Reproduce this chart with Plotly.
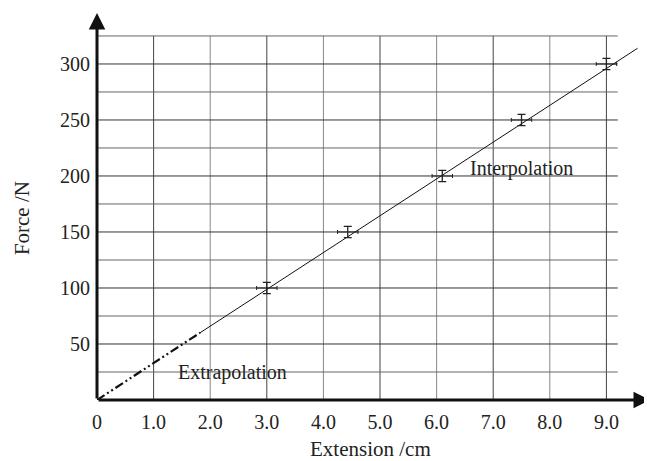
import plotly.graph_objects as go

# ---- data ----
extension_cm = [3.0, 4.43, 6.1, 7.5, 9.0]
force_N = [100, 150, 200, 250, 300]
ext_err = [0.18, 0.18, 0.18, 0.18, 0.18]
force_err = [5, 5, 5, 5, 5]

extrap_x = [0.0, 1.82]
extrap_y = [0.0, 60.0]
interp_x = [1.82, 9.55]
interp_y = [60.0, 314.0]

x_ticks = [0, 1, 2, 3, 4, 5, 6, 7, 8, 9]
x_ticktext = ["0", "1.0", "2.0", "3.0", "4.0", "5.0", "6.0", "7.0", "8.0", "9.0"]
y_ticks = [50, 100, 150, 200, 250, 300]
y_ticktext = ["50", "100", "150", "200", "250", "300"]
grid_x = [1, 2, 3, 4, 5, 6, 7, 8, 9]
grid_y = [25, 50, 75, 100, 125, 150, 175, 200, 225, 250, 275, 300, 325]
grid_x_end = 9.2
grid_y_end = 325

X_MAX = 9.77
Y_MAX = 345.5
FONT = "Liberation Serif"

fig = go.Figure()

# extrapolated part
fig.add_trace(go.Scatter(x=extrap_x, y=extrap_y, mode="lines",
                         line=dict(color="#111", width=2.2, dash="9px,3px,2px,3px,2px,3px"),
                         hoverinfo="skip", showlegend=False))
# fitted line
fig.add_trace(go.Scatter(x=interp_x, y=interp_y, mode="lines",
                         line=dict(color="#111", width=1),
                         hoverinfo="skip", showlegend=False))
# data points with error bars
fig.add_trace(go.Scatter(x=extension_cm, y=force_N, mode="markers",
                         marker=dict(size=1, color="rgba(0,0,0,0)"),
                         error_x=dict(type="data", array=ext_err, color="#222", thickness=1, width=2),
                         error_y=dict(type="data", array=force_err, color="#222", thickness=1.3, width=4),
                         showlegend=False))

shapes = []
for i, gx in enumerate(grid_x):
    shapes.append(dict(type="line", xref="x", yref="y", x0=gx, x1=gx, y0=0, y1=grid_y_end,
                       line=dict(color="#444" if i % 2 == 0 else "#888", width=1), layer="below"))
for i, gy in enumerate(grid_y):
    shapes.append(dict(type="line", xref="x", yref="y", x0=0, x1=grid_x_end, y0=gy, y1=gy,
                       line=dict(color="#333" if i % 2 == 1 else "#666", width=1), layer="below"))

annotations = [
    # axes arrows
    dict(x=X_MAX, y=0, ax=0, ay=0, xref="x", yref="y", axref="x", ayref="y", text="",
         showarrow=True, arrowhead=2, arrowsize=1.1, arrowwidth=3, arrowcolor="#111"),
    dict(x=0, y=Y_MAX, ax=0, ay=0, xref="x", yref="y", axref="x", ayref="y", text="",
         showarrow=True, arrowhead=2, arrowsize=1.1, arrowwidth=3, arrowcolor="#111"),
    dict(x=2.39, y=25, xref="x", yref="y", text="Extrapolation", showarrow=False,
         xanchor="center", yanchor="middle",
         font=dict(family=FONT, size=20, color="#222")),
    dict(x=7.5, y=207, xref="x", yref="y", text="Interpolation", showarrow=False,
         xanchor="center", yanchor="middle",
         font=dict(family=FONT, size=20, color="#222")),
    dict(x=-0.1356, y=0.47, xref="paper", yref="paper", text="Force /N", textangle=-90,
         xanchor="center", yanchor="middle",
         showarrow=False, font=dict(family=FONT, size=21, color="#222")),
    dict(x=0.4937, y=-0.1266, xref="paper", yref="paper", text="Extension /cm",
         xanchor="center", yanchor="middle",
         showarrow=False, font=dict(family=FONT, size=21, color="#222")),
]

# the page body adds an 8px offset, so the figure is sized to fit inside the window
fig.update_layout(
    width=644, height=453,
    margin=dict(l=89, r=2, t=5, b=61, autoexpand=False),
    paper_bgcolor="white", plot_bgcolor="white",
    shapes=shapes, annotations=annotations,
    font=dict(family=FONT, size=20, color="#222"),
    xaxis=dict(range=[0, X_MAX], showgrid=False, zeroline=False, showline=False,
               tickvals=x_ticks, ticktext=x_ticktext, ticks="outside", ticklen=4,
               tickcolor="rgba(0,0,0,0)", fixedrange=True, automargin=False,
               tickfont=dict(family=FONT, size=20, color="#222")),
    yaxis=dict(range=[0, Y_MAX], showgrid=False, zeroline=False, showline=False,
               tickvals=y_ticks, ticktext=y_ticktext, ticks="outside", ticklen=2,
               tickcolor="rgba(0,0,0,0)", fixedrange=True, automargin=False,
               tickfont=dict(family=FONT, size=20, color="#222")),
)

fig.write_html("out.html")
